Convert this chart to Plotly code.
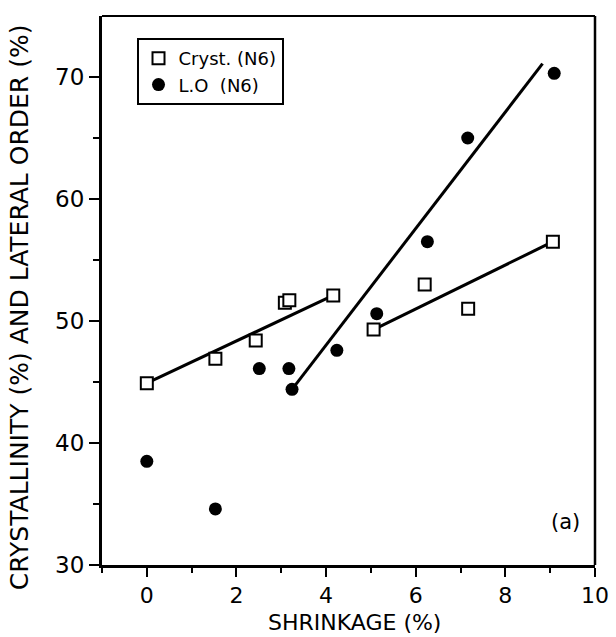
import plotly.graph_objects as go

# Crystallinity (N6) data
cryst_x = [0.0, 1.53, 2.43, 3.08, 3.18, 4.16, 5.06, 6.2, 7.17, 9.06]
cryst_y = [44.9, 46.9, 48.4, 51.5, 51.7, 52.1, 49.3, 53.0, 51.0, 56.5]

# Lateral order (N6) data
lo_x = [0.0, 1.53, 2.51, 3.17, 3.24, 4.24, 5.13, 6.26, 7.16, 9.09]
lo_y = [38.5, 34.6, 46.1, 46.1, 44.4, 47.6, 50.6, 56.5, 65.0, 70.3]

# Fitted lines (endpoints)
fit1_x = [0.0, 4.16]
fit1_y = [44.9, 52.1]
fit2_x = [3.24, 8.83]
fit2_y = [44.4, 71.1]
fit3_x = [5.06, 9.06]
fit3_y = [49.3, 56.5]

FONT = "DejaVu Sans"

fig = go.Figure()
for fx, fy in [(fit1_x, fit1_y), (fit2_x, fit2_y), (fit3_x, fit3_y)]:
    fig.add_trace(go.Scatter(x=fx, y=fy, mode="lines",
                             line=dict(color="black", width=3),
                             showlegend=False, hoverinfo="skip"))

fig.add_trace(go.Scatter(x=cryst_x, y=cryst_y, mode="markers", name="Cryst. (N6)",
                         marker=dict(symbol="square", size=12, color="white",
                                     line=dict(color="black", width=2))))
fig.add_trace(go.Scatter(x=lo_x, y=lo_y, mode="markers", name="L.O  (N6)",
                         marker=dict(symbol="circle", size=13, color="black",
                                     line=dict(color="black", width=0))))

fig.update_layout(
    width=616, height=637,
    margin=dict(l=102, r=21, t=16, b=72),
    plot_bgcolor="white", paper_bgcolor="white",
    font=dict(family=FONT, color="black"),
    legend=dict(x=0.07, y=0.96, xanchor="left", yanchor="top",
                bgcolor="white", bordercolor="black", borderwidth=2,
                font=dict(size=18, family=FONT), tracegroupgap=0,
                itemwidth=30),
    xaxis=dict(range=[-1, 10], tickvals=[0, 2, 4, 6, 8, 10],
               showgrid=False, zeroline=False, automargin=False,
               showline=True, linecolor="black", linewidth=3,
               ticks="outside", ticklen=9, tickwidth=2, tickcolor="black",
               tickfont=dict(size=22, family=FONT),
               minor=dict(tickvals=[-1, 1, 3, 5, 7, 9], ticks="outside", ticklen=5,
                          tickwidth=2, tickcolor="black")),
    yaxis=dict(range=[30, 75], tickvals=[30, 40, 50, 60, 70],
               showgrid=False, zeroline=False, automargin=False,
               showline=True, linecolor="black", linewidth=3,
               ticks="outside", ticklen=10, tickwidth=2, tickcolor="black",
               tickfont=dict(size=23, family=FONT),
               minor=dict(tickvals=[35, 45, 55, 65], ticks="outside", ticklen=6,
                          tickwidth=2, tickcolor="black")),
)

# axis titles placed as annotations to match the reference position
fig.add_annotation(xref="paper", yref="paper", x=0.513, y=-0.104,
                   text="SHRINKAGE (%)", showarrow=False,
                   xanchor="center", yanchor="middle",
                   font=dict(size=22, family=FONT))
fig.add_annotation(xref="paper", yref="paper", x=-0.166, y=0.47,
                   text="CRYSTALLINITY (%) AND LATERAL ORDER (%)", showarrow=False,
                   textangle=-90, xanchor="center", yanchor="middle",
                   font=dict(size=25, family=FONT))

# top and right frame lines
fig.add_shape(type="line", xref="paper", yref="paper", x0=0, x1=1, y0=1, y1=1,
              line=dict(color="black", width=2))
fig.add_shape(type="line", xref="paper", yref="paper", x0=1, x1=1, y0=0, y1=1,
              line=dict(color="black", width=2.5))

fig.add_annotation(x=9.35, y=33.5, xref="x", yref="y", text="(a)", showarrow=False,
                   font=dict(size=21, family=FONT))

fig.write_html("out.html")
